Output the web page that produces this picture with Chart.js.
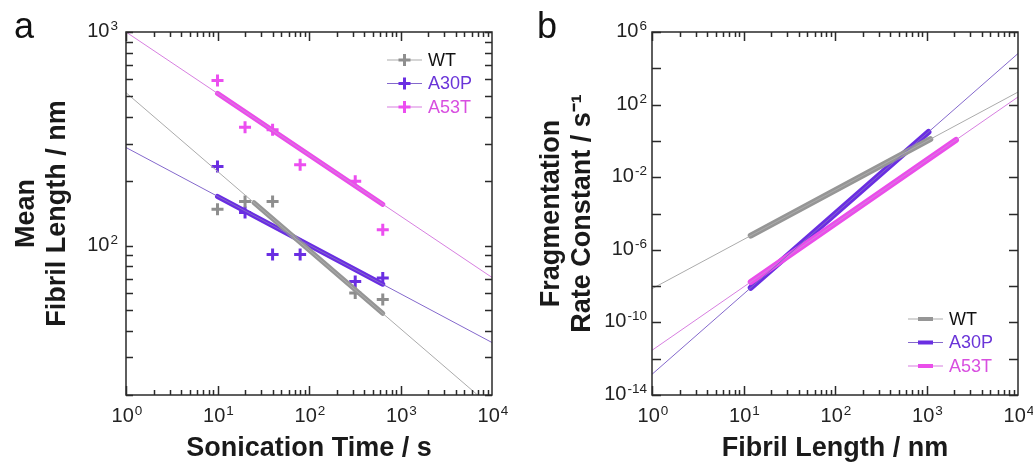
<!DOCTYPE html>
<html><head><meta charset="utf-8">
<script src="https://cdn.jsdelivr.net/npm/chart.js@4.4.0/dist/chart.umd.min.js"></script>
<style>
html,body{margin:0;padding:0;background:#fff;width:1033px;height:464px;overflow:hidden}
#wrapA{position:absolute;left:0;top:0;width:516px;height:464px}
#wrapB{position:absolute;left:516px;top:0;width:517px;height:464px}
.panel{position:absolute;font-family:"Liberation Sans",Arial,sans-serif;font-size:36px;line-height:36px;color:#111}
</style></head><body>
<div id="wrapA"><canvas id="ca" width="516" height="464"></canvas></div>
<div id="wrapB"><canvas id="cb" width="517" height="464"></canvas></div>
<div class="panel" style="left:14px;top:8px">a</div>
<div class="panel" style="left:537px;top:8px">b</div>
<script>
// ---------- Panel a data ----------
const sonicationTime = [10, 20, 40, 80, 320, 640];
const lengthWT   = [148, 161, 161, null, 60, 56];
const lengthA30P = [235, 143, 91, 91, 68, 70.5];
const lengthA53T = [593, 358, 349, 239, 200, 118.6];
// fitted power laws (thin, full range) and fitted range (thick)
const fitTimeRange = [1, 10000];
const fitLenWT   = [520, 17.5];
const fitLenA30P = [288, 35.2];
const fitLenA53T = [1000, 71];
const obsTimeWT   = [25, 640];  const obsLenWT   = [159, 48.2];
const obsTimeA30P = [10, 640];  const obsLenA30P = [170, 66];
const obsTimeA53T = [10, 640];  const obsLenA53T = [516, 156];

// ---------- Panel b data ----------
const fitLengthRange = [1, 10000];
const fitRateWT   = [7.2e-9, 490];
const fitRateA30P = [1.38e-13, 6.5e4];
const fitRateA53T = [2.9e-12, 263];
const obsLengthWT   = [12, 1100]; const obsRateWT   = [6.1e-6, 1.26];
const obsLengthA30P = [12, 1050]; const obsRateA30P = [8.1e-9, 3.1];
const obsLengthA53T = [12, 2100]; const obsRateA53T = [1.68e-8, 1.13];

// ---------- tick labels (10 to the power shown) ----------
const xTickValues = [1, 10, 100, 1000, 10000];
const xTickExps   = ['0', '1', '2', '3', '4'];
const aYTickValues = [100, 1000];
const aYTickExps   = ['2', '3'];
const bYTickValues = [1e-14, 1e-10, 1e-6, 1e-2, 1e2, 1e6];
const bYTickExps   = ['-14', '-10', '-6', '-2', '2', '6'];

const seriesNames = ['WT', 'A30P', 'A53T'];

const FONT = '"Liberation Sans", Arial, Helvetica, sans-serif';
const C = {
  WT:   {thin:'#ababab', thick:'#969696', mark:'#8e8e8e', text:'#111111'},
  A30P: {thin:'#8468cc', thick:'#6a2ee2', mark:'#6a2ee2', text:'#6a35d8'},
  A53T: {thin:'#d77fe0', thick:'#ea4eea', mark:'#ec4ef0', text:'#d84fe0'}
};

const pts = (xs, ys) => xs.map((x, i) => ({x, y: ys[i]})).filter(p => p.y !== null);

function lineDs(xs, ys, color, width){
  return {type:'line', data:pts(xs, ys), borderColor:color, backgroundColor:color,
          borderWidth:width, pointRadius:0, showLine:true, fill:false, tension:0,
          borderCapStyle: width > 2 ? 'round' : 'butt'};
}
function markDs(xs, ys, color){
  return {type:'scatter', data:pts(xs, ys), borderColor:color, backgroundColor:color,
          pointStyle:'cross', pointRadius:6, pointBorderWidth:3, showLine:false};
}

const BASE_SIZE = 20, EXP_SIZE = 13.5;
function powLabel(ctx, exp, x, baseline, align){
  ctx.font = BASE_SIZE + 'px ' + FONT;
  const wb = ctx.measureText('10').width;
  ctx.font = EXP_SIZE + 'px ' + FONT;
  const we = ctx.measureText(exp).width + 1;
  const total = wb + we;
  const left = align === 'center' ? x - total / 2 : x - total;
  ctx.textAlign = 'left';
  ctx.textBaseline = 'alphabetic';
  ctx.font = BASE_SIZE + 'px ' + FONT;
  ctx.fillText('10', left, baseline);
  ctx.font = EXP_SIZE + 'px ' + FONT;
  ctx.fillText(exp, left + wb + 1, baseline - 7);
}

function tickPlugin(opt){
  return {
    id:'frameTicks',
    afterDatasetsDraw(chart){
      const ctx = chart.ctx, a = chart.chartArea;
      const xs = chart.scales.x, ys = chart.scales.y;
      ctx.save();
      ctx.strokeStyle = '#2a2a2a';
      ctx.lineWidth = 1.5;
      ctx.beginPath();
      for (let d = 0; d < 4; d++) {
        for (let m = 1; m <= 9; m++) {
          const v = m * Math.pow(10, d);
          const px = Math.round(xs.getPixelForValue(v)) + 0.5;
          const len = m === 1 ? 9 : 5;
          ctx.moveTo(px, a.bottom); ctx.lineTo(px, a.bottom - len);
          ctx.moveTo(px, a.top);    ctx.lineTo(px, a.top + len);
        }
      }
      opt.yTicks.forEach(v => {
        const py = Math.round(ys.getPixelForValue(v)) + 0.5;
        ctx.moveTo(a.left, py);  ctx.lineTo(a.left + opt.yLen, py);
        ctx.moveTo(a.right, py); ctx.lineTo(a.right - opt.yLen, py);
      });
      ctx.stroke();
      ctx.strokeRect(a.left, a.top, a.right - a.left, a.bottom - a.top);

      // tick labels
      ctx.fillStyle = '#222';
      xTickValues.forEach((v, i) => {
        powLabel(ctx, xTickExps[i], xs.getPixelForValue(v) + 1, a.bottom + 27, 'center');
      });
      opt.yVals.forEach((v, i) => {
        powLabel(ctx, opt.yExps[i], a.left - opt.yPad, ys.getPixelForValue(v) + 5, 'right');
      });

      // legend
      const L = opt.legend;
      ctx.font = '18px ' + FONT;
      ctx.textBaseline = 'middle';
      ctx.textAlign = 'left';
      seriesNames.forEach((name, i) => {
        const y = L.y + i * L.dy;
        const c = C[name];
        ctx.strokeStyle = c.thin; ctx.lineWidth = 1.2;
        ctx.beginPath(); ctx.moveTo(L.x, y); ctx.lineTo(L.x + 35, y); ctx.stroke();
        if (L.type === 'plus') {
          ctx.strokeStyle = c.mark; ctx.lineWidth = 3;
          ctx.beginPath();
          ctx.moveTo(L.x + 17.5 - 6, y); ctx.lineTo(L.x + 17.5 + 6, y);
          ctx.moveTo(L.x + 17.5, y - 6); ctx.lineTo(L.x + 17.5, y + 6);
          ctx.stroke();
        } else {
          ctx.strokeStyle = c.thick; ctx.lineWidth = 4;
          ctx.beginPath(); ctx.moveTo(L.x + 10, y); ctx.lineTo(L.x + 25, y); ctx.stroke();
        }
        ctx.fillStyle = c.text;
        ctx.fillText(name, L.x + 41, y + 1);
      });
      ctx.restore();
    }
  };
}

function axisX(title){
  return {
    type:'logarithmic', position:'bottom', min:1, max:10000,
    afterFit(s){ s.height = 69; },
    afterBuildTicks(s){ s.ticks = xTickValues.map(v => ({value:v})); },
    grid:{display:false, drawTicks:false}, border:{display:false},
    ticks:{display:false},
    title:{display:true, text:title, color:'#1a1a1a', padding:{top:0, bottom:0},
           font:{family:FONT, size:27, weight:'bold', lineHeight:1.15}}
  };
}
function axisY(min, max, vals, width, title, padTop){
  return {
    type:'logarithmic', position:'left', min, max,
    afterFit(s){ s.width = width; },
    afterBuildTicks(s){ s.ticks = vals.map(v => ({value:v})); },
    grid:{display:false, drawTicks:false}, border:{display:false},
    ticks:{display:false},
    title:{display:true, text:title, color:'#1a1a1a', padding:{top:padTop, bottom:0},
           font:{family:FONT, size:27, weight:'bold', lineHeight:1.15}}
  };
}

const baseOpts = {
  responsive:false, animation:false, devicePixelRatio:1,
  plugins:{legend:{display:false}, tooltip:{enabled:false}},
  elements:{line:{borderJoinStyle:'round'}}
};

// Panel a
const aMinor = [];
for (let v = 20; v <= 90; v += 10) aMinor.push(v);
for (let v = 100; v <= 1000; v += 100) aMinor.push(v);
new Chart(document.getElementById('ca'), {
  type:'scatter',
  data:{datasets:[
    lineDs(fitTimeRange, fitLenWT, C.WT.thin, 1),
    lineDs(fitTimeRange, fitLenA30P, C.A30P.thin, 1),
    lineDs(fitTimeRange, fitLenA53T, C.A53T.thin, 1),
    lineDs(obsTimeWT, obsLenWT, C.WT.thick, 5),
    lineDs(obsTimeA30P, obsLenA30P, C.A30P.thick, 5),
    lineDs(obsTimeA53T, obsLenA53T, C.A53T.thick, 5),
    markDs(sonicationTime, lengthWT, C.WT.mark),
    markDs(sonicationTime, lengthA30P, C.A30P.mark),
    markDs(sonicationTime, lengthA53T, C.A53T.mark)
  ]},
  options:Object.assign({}, baseOpts, {
    layout:{padding:{left:0, right:24, top:32, bottom:0}},
    scales:{
      x: axisX('Sonication Time / s'),
      y: axisY(20, 1000, aYTickValues, 126, ['Mean', 'Fibril Length / nm'], 11)
    }
  }),
  plugins:[tickPlugin({yTicks:aMinor, yLen:7, yVals:aYTickValues, yExps:aYTickExps, yPad:8,
                       legend:{type:'plus', x:387, y:60, dy:23.5}})]
});

// Panel b
const bTicks = [];
for (let e = -14; e <= 6; e += 2) bTicks.push(Math.pow(10, e));
new Chart(document.getElementById('cb'), {
  type:'scatter',
  data:{datasets:[
    lineDs(fitLengthRange, fitRateWT, C.WT.thin, 1),
    lineDs(fitLengthRange, fitRateA30P, C.A30P.thin, 1),
    lineDs(fitLengthRange, fitRateA53T, C.A53T.thin, 1),
    lineDs(obsLengthWT, obsRateWT, C.WT.thick, 6),
    lineDs(obsLengthA53T, obsRateA53T, C.A53T.thick, 6),
    lineDs(obsLengthA30P, obsRateA30P, C.A30P.thick, 6)
  ]},
  options:Object.assign({}, baseOpts, {
    layout:{padding:{left:0, right:15, top:32, bottom:0}},
    scales:{
      x: axisX('Fibril Length / nm'),
      y: axisY(1e-14, 1e6, bYTickValues, 136, ['Fragmentation', 'Rate Constant / s\u207B\u00B9'], 20)
    }
  }),
  plugins:[tickPlugin({yTicks:bTicks, yLen:9, yVals:bYTickValues, yExps:bYTickExps, yPad:5,
                       legend:{type:'bar', x:392, y:319, dy:23.5}})]
});
</script>
</body></html>
